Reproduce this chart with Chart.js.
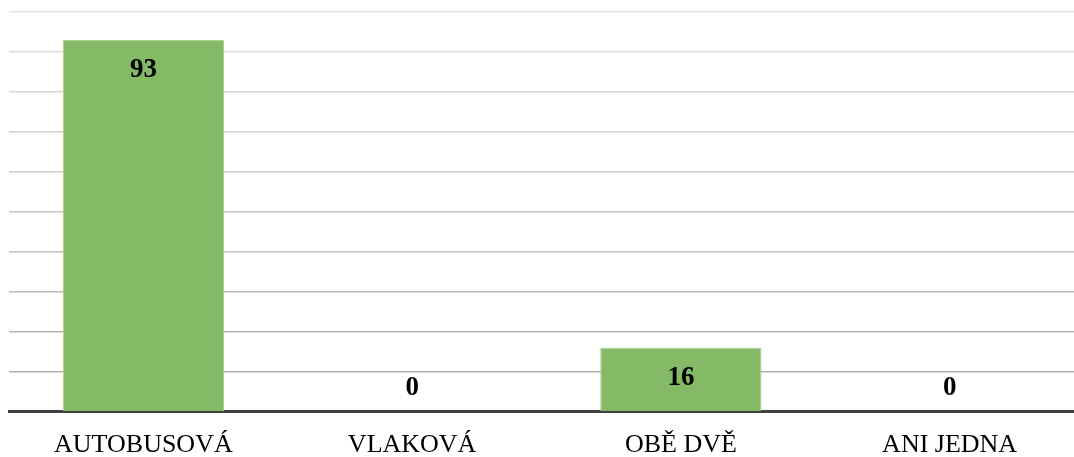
<!DOCTYPE html>
<html>
<head>
<meta charset="utf-8">
<script src="https://cdn.jsdelivr.net/npm/chart.js@4/dist/chart.umd.min.js"></script>
<style>
  html, body { margin: 0; padding: 0; background: #fff; overflow: hidden; }
  #wrap { width: 1090px; height: 457px; position: relative; }
</style>
</head>
<body>
<div id="wrap"><canvas id="c"></canvas></div>
<script>
// data
const categories = ['AUTOBUSOVÁ', 'VLAKOVÁ', 'OBĚ DVĚ', 'ANI JEDNA'];
const counts = [93, 0, 16, 0];
const yMax = 100;
const yStep = 10;

// popisky hodnot (tučné, uvnitř konce sloupce)
const valueLabels = {
  id: 'valueLabels',
  afterDatasetsDraw(chart) {
    const ctx = chart.ctx;
    const meta = chart.getDatasetMeta(0);
    ctx.save();
    ctx.font = 'bold 27px "Liberation Serif", "Times New Roman", serif';
    ctx.fillStyle = '#000';
    ctx.textAlign = 'center';
    ctx.textBaseline = 'middle';
    meta.data.forEach((bar, i) => {
      const h = bar.base - bar.y;
      const y = h > 50 ? Math.min(bar.y + 30, bar.base - 30) : bar.base - 24;
      ctx.fillText(String(counts[i]), bar.x, y);
    });
    ctx.restore();
  }
};

new Chart(document.getElementById('c'), {
  type: 'bar',
  data: {
    labels: categories,
    datasets: [{
      data: counts,
      backgroundColor: '#84b965',
      borderColor: '#a9d492',
      borderWidth: 1,
      categoryPercentage: 1,
      barPercentage: 0.6
    }]
  },
  options: {
    responsive: true,
    maintainAspectRatio: false,
    animation: false,
    layout: { padding: { left: 9, right: 6, top: 12, bottom: 0 } },
    plugins: { legend: { display: false }, tooltip: { enabled: false } },
    scales: {
      x: {
        grid: { display: false },
        border: { display: true, color: '#404040', width: 3 },
        afterFit: (scale) => { scale.height -= 14; },
        ticks: {
          color: '#000',
          padding: 10,
          font: { family: '"Liberation Serif", "Times New Roman", serif', size: 26 }
        }
      },
      y: {
        min: 0,
        max: yMax,
        ticks: { display: false, stepSize: yStep },
        border: { display: false },
        grid: {
          drawTicks: false,
          lineWidth: 1.5,
          color: (c) => {
            const t = c.index / 10;
            const v = Math.round(170 + t * 56);
            return 'rgb(' + v + ',' + v + ',' + v + ')';
          }
        }
      }
    }
  },
  plugins: [valueLabels]
});
</script>
</body>
</html>
